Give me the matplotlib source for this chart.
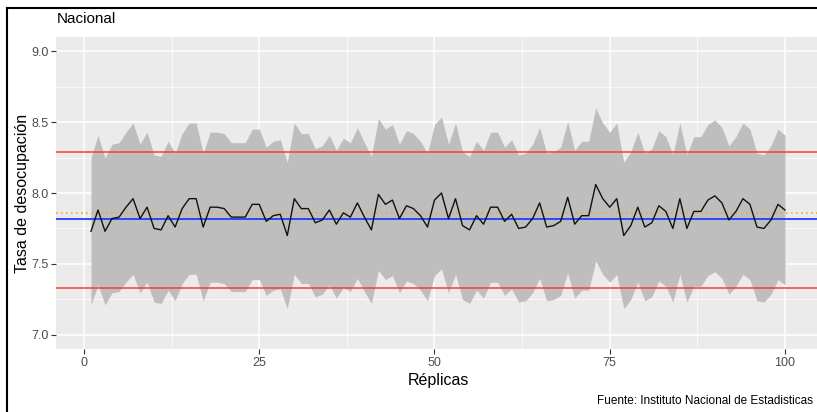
## Replicas de la tasa de desocupacion nacional con intervalo de confianza
import numpy as np
import matplotlib.pyplot as plt
from matplotlib.lines import Line2D

plt.rc('font', family=['Liberation Sans', 'DejaVu Sans'])

# datos
replicas = np.arange(1, 101)
tasa = [7.73, 7.88, 7.73, 7.82, 7.83, 7.90, 7.96, 7.82, 7.90, 7.75,
        7.74, 7.84, 7.76, 7.89, 7.96, 7.96, 7.76, 7.90, 7.90, 7.89,
        7.83, 7.83, 7.83, 7.92, 7.92, 7.80, 7.84, 7.85, 7.70, 7.96,
        7.89, 7.89, 7.79, 7.81, 7.88, 7.78, 7.86, 7.83, 7.93, 7.83,
        7.74, 7.99, 7.92, 7.95, 7.82, 7.91, 7.89, 7.84, 7.76, 7.95,
        8.00, 7.82, 7.96, 7.77, 7.74, 7.84, 7.78, 7.90, 7.90, 7.80,
        7.85, 7.75, 7.76, 7.82, 7.93, 7.76, 7.77, 7.80, 7.97, 7.78,
        7.84, 7.84, 8.06, 7.96, 7.90, 7.96, 7.70, 7.77, 7.90, 7.76,
        7.79, 7.91, 7.87, 7.75, 7.96, 7.75, 7.87, 7.87, 7.95, 7.98,
        7.93, 7.81, 7.87, 7.96, 7.92, 7.76, 7.75, 7.81, 7.92, 7.88]
tasa = np.array(tasa)
margen_rel = 0.067          # semi-amplitud relativa del intervalo
tasa_ref = 7.815            # valor de referencia (azul)
lim_inf, lim_sup = 7.33, 8.29
media_replicas = 7.86

fig = plt.figure(figsize=(8.17, 4.12), dpi=100)
ax = fig.add_axes([56.3/817, 63/412, 763.4/817, 312/412])
ax.set_facecolor('#EBEBEB')

ax.fill_between(replicas, tasa*(1-margen_rel), tasa*(1+margen_rel),
                color='#BEBEBE', lw=0, zorder=2)
ax.plot(replicas, tasa, color='#111111', lw=1.0, zorder=4)
ax.axhline(lim_sup, color='#FF3B30', lw=1.1, zorder=3)
ax.axhline(lim_inf, color='#FF3B30', lw=1.1, zorder=3)
ax.axhline(tasa_ref, color='#1F3DFF', lw=1.3, zorder=3)
ax.axhline(media_replicas, color='#E8B030', lw=1.2, ls=(0, (1, 2)), zorder=3)

ax.set_xlim(-3.95, 104.95)
ax.set_ylim(6.9, 9.1)
ax.set_xticks([0, 25, 50, 75, 100])
ax.set_yticks([7.0, 7.5, 8.0, 8.5, 9.0])
ax.set_yticklabels(['7.0', '7.5', '8.0', '8.5', '9.0'])
ax.set_xticks([12.5, 37.5, 62.5, 87.5], minor=True)
ax.set_yticks([7.25, 7.75, 8.25, 8.75], minor=True)
ax.grid(True, which='major', color='white', lw=1.1, zorder=0)
ax.grid(True, which='minor', color='white', lw=0.5, zorder=0)
ax.set_axisbelow(True)
for s in ax.spines.values():
    s.set_visible(False)
ax.tick_params(which='major', length=3.5, width=0.8, color='#333333',
               labelcolor='#4D4D4D', labelsize=9, pad=2)
ax.tick_params(which='minor', length=0)

ax.set_xlabel('Réplicas', fontsize=11.5, labelpad=3)
ax.set_ylabel('Tasa de desocupación', fontsize=11.5)
ax.yaxis.set_label_coords((30 - 56.3)/763.4, 0.5)
ax.set_title('Nacional', loc='left', fontsize=11, pad=10)
fig.text(813/817, 1 - 401/412, 'Fuente: Instituto Nacional de Estadisticas',
         ha='right', va='center', fontsize=8.5)

# marco de la captura
fig.add_artist(Line2D([7/817, 7/817], [0, 1 - 8/412], color='black', lw=1.5,
                      transform=fig.transFigure))
fig.add_artist(Line2D([7/817, 1], [1 - 8/412, 1 - 8/412], color='black', lw=1.5,
                      transform=fig.transFigure))

plt.savefig('out.png', dpi=100)
